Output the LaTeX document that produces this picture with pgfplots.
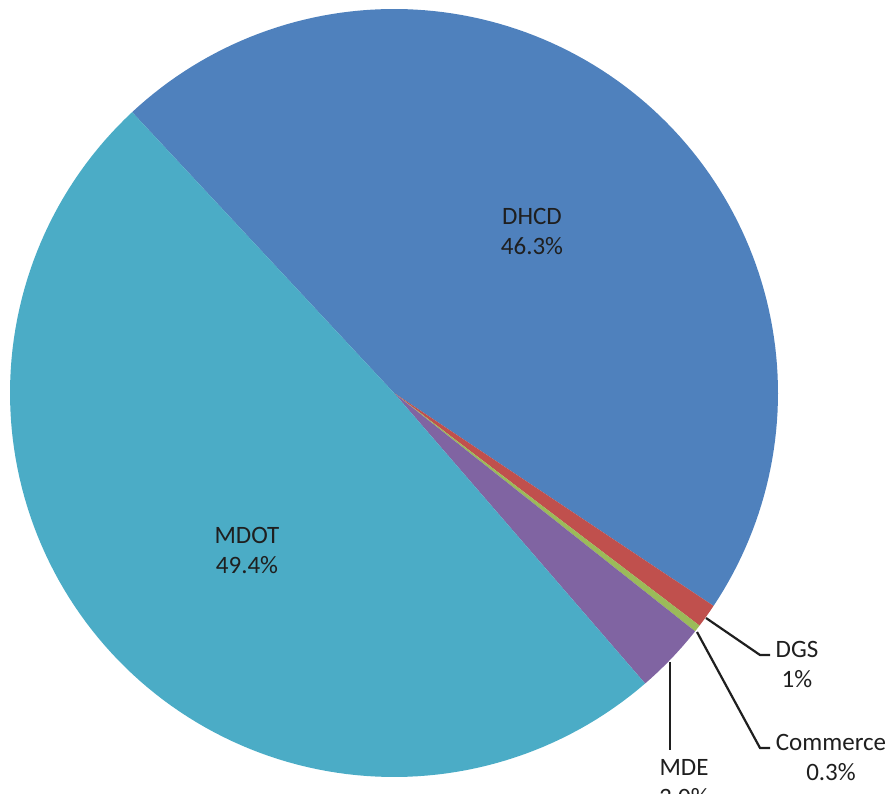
\documentclass[border=0pt]{standalone}
\usepackage{pgfplots}
\pgfplotsset{compat=1.18}
\usepackage{fontspec}
\setmainfont{Carlito}
\definecolor{cDHCD}{HTML}{4F81BD}
\definecolor{cDGS}{HTML}{C0504D}
\definecolor{cCOM}{HTML}{9BBB59}
\definecolor{cMDE}{HTML}{8064A2}
\definecolor{cMDOT}{HTML}{4BACC6}
\definecolor{txt}{HTML}{1F1F1F}
\tikzset{lbl/.style={font=\fontsize{25}{30}\selectfont, text=txt, align=center, inner sep=0pt}}
% data (percent)
\def\vDHCD{46.3}
\def\vDGS{1}
\def\vCOM{0.3}
\def\vMDE{3.0}
\def\vMDOT{49.4}
\def\cx{394}\def\cy{401}\def\rr{384}
\pgfmathsetmacro\aA{133}
\pgfmathsetmacro\aB{\aA-3.6*\vDHCD}
\pgfmathsetmacro\aC{\aB-3.6*\vDGS}
\pgfmathsetmacro\aD{\aC-3.6*\vCOM}
\pgfmathsetmacro\aE{\aD-3.6*\vMDE}
\pgfmathsetmacro\aF{\aE-3.6*\vMDOT}
\begin{document}
\begin{tikzpicture}
\begin{axis}[
  scale only axis, width=893pt, height=794pt,
  xmin=0, xmax=893, ymin=0, ymax=794,
  hide axis, clip=false,
]
\addplot[fill=cDHCD, draw=none, domain=\aB:\aA, samples=120] ({\cx+\rr*cos(x)},{\cy+\rr*sin(x)}) -- (axis cs:\cx,\cy) -- cycle;
\addplot[fill=cDGS, draw=none, domain=\aC:\aB, samples=10] ({\cx+\rr*cos(x)},{\cy+\rr*sin(x)}) -- (axis cs:\cx,\cy) -- cycle;
\addplot[fill=cCOM, draw=none, domain=\aD:\aC, samples=5] ({\cx+\rr*cos(x)},{\cy+\rr*sin(x)}) -- (axis cs:\cx,\cy) -- cycle;
\addplot[fill=cMDE, draw=none, domain=\aE:\aD, samples=20] ({\cx+\rr*cos(x)},{\cy+\rr*sin(x)}) -- (axis cs:\cx,\cy) -- cycle;
\addplot[fill=cMDOT, draw=none, domain=\aF:\aE, samples=120] ({\cx+\rr*cos(x)},{\cy+\rr*sin(x)}) -- (axis cs:\cx,\cy) -- cycle;
% leader lines
\draw[line width=2.2pt, txt] (axis cs:706,176) -- (axis cs:760,139) -- (axis cs:770,139);
\draw[line width=2.2pt, txt] (axis cs:697,162) -- (axis cs:760,46) -- (axis cs:770,46);
\draw[line width=2.2pt, txt] (axis cs:670,132) -- (axis cs:670,44);
% labels
\node[lbl] at (axis cs:532,562) {DHCD\\46.3\%};
\node[lbl] at (axis cs:247,243.5) {MDOT\\49.4\%};
\node[lbl] at (axis cs:797,130) {DGS\\1\%};
\node[lbl] at (axis cs:831,36.5) {Commerce\\0.3\%};
\node[lbl] at (axis cs:684,11) {MDE\\3.0\%};
\coordinate (ll) at (axis cs:0,0);
\coordinate (ur) at (axis cs:893,794);
\end{axis}
\pgfresetboundingbox
\path[use as bounding box] (ll) rectangle (ur);
\end{tikzpicture}
\end{document}
